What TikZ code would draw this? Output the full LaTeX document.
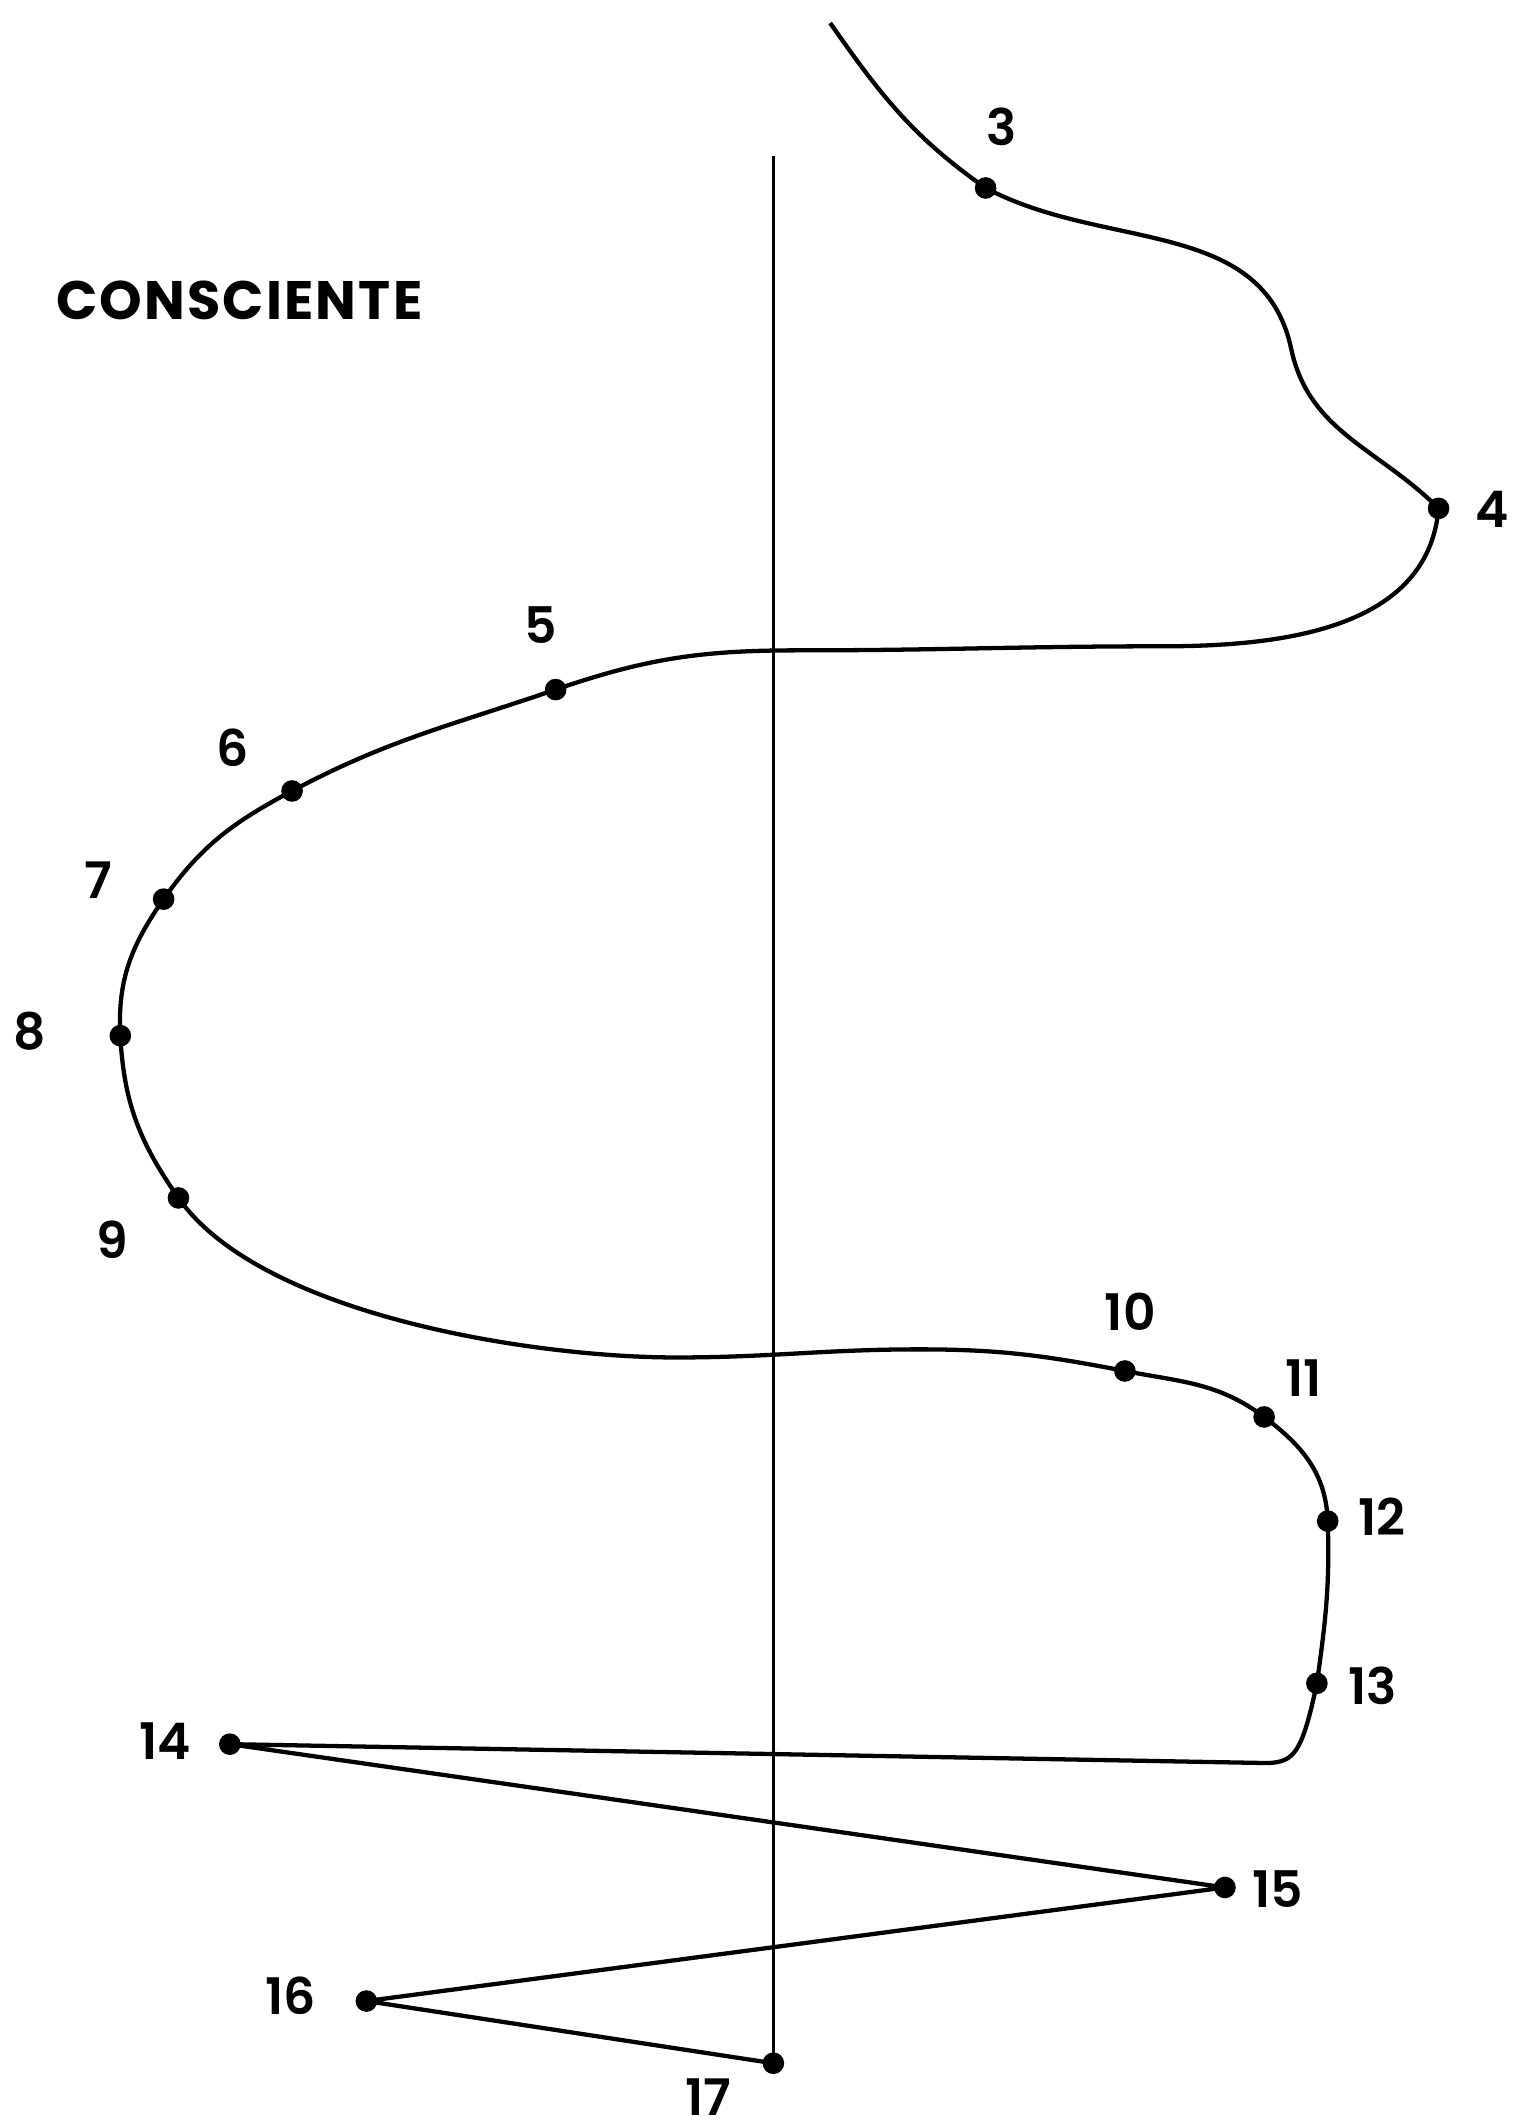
\documentclass[tikz,border=0pt]{standalone}
\usepackage{fontspec}
\newfontfamily\numfont{Poppins SemiBold}
\newfontfamily\titlefont{Poppins Bold}[LetterSpace=4]
\usetikzlibrary{calc}
\tikzset{
  dot/.style={circle,fill=black,inner sep=0pt,minimum size=0.16cm},
  num/.style={font=\numfont\fontsize{10.6}{12}\selectfont,inner sep=0pt},
  trace/.style={line width=0.9pt,line join=round},
}

\begin{document}
\begin{tikzpicture}[x=0.01cm,y=-0.01cm]
  \useasboundingbox (0,0) rectangle (1120,1568);

  % Title
  \node[font=\titlefont\fontsize{11.4}{13}\selectfont,inner sep=0pt] (title) at (177,222) {CONSCIENTE};

  % Points on the trace
  \coordinate (top) at (614,17);
  \node[dot] (d3) at (729,139) {};
  \node[dot] (d4) at (1064,376) {};
  \node[dot] (d5) at (411,510) {};
  \node[dot] (d6) at (216,585) {};
  \node[dot] (d7) at (121,665) {};
  \node[dot] (d8) at (89,766) {};
  \node[dot] (d9) at (132,886) {};
  \node[dot] (d10) at (832,1014) {};
  \node[dot] (d11) at (935,1048) {};
  \node[dot] (d12) at (982,1125) {};
  \node[dot] (d13) at (974,1245) {};
  \node[dot] (d14) at (170,1290) {};
  \node[dot] (d15) at (906,1396) {};
  \node[dot] (d16) at (271,1480) {};
  \node[dot] (d17) at (572,1526) {};

  % Labels
  \node[num] (n3) at (741,94) {3};
  \node[num] (n4) at (1104,377) {4};
  \node[num] (n5) at (400,462) {5};
  \node[num] (n6) at (172,553) {6};
  \node[num] (n7) at (73,651) {7};
  \node[num] (n8) at (22,763) {8};
  \node[num] (n9) at (83,917) {9};
  \node[num] (n10) at (836,970) {10};
  \node[num] (n11) at (964,1019) {11};
  \node[num] (n12) at (1022,1122) {12};
  \node[num] (n13) at (1015,1247) {13};
  \node[num] (n14) at (122,1288) {14};
  \node[num] (n15) at (945,1397) {15};
  \node[num] (n16) at (215,1476) {16};
  \node[num] (n17) at (524,1551) {17};

  % Axis
  \coordinate (axtop) at (572,115);
  \draw[line width=0.7pt] (axtop) -- (d17.center);

  % Helper points
  \coordinate (w1) at (955,258);
  \coordinate (w2) at (860,478);
  \coordinate (w3) at (590,481);
  \coordinate (w4) at (500,1004);
  \coordinate (w5) at (680,998);
  \coordinate (w6) at (938,1304);

  % Trace
  \draw[trace] (top) to[out=-55,in=145] (d3.center)
    to[out=-28,in=102] (w1)
    to[out=-78,in=135] (d4.center)
    to[out=-95,in=0] (w2)
    to[out=180,in=0] (w3)
    to[out=180,in=19] (d5.center)
    to[out=-161,in=28] (d6.center)
    to[out=-152,in=55] (d7.center)
    to[out=-125,in=93] (d8.center)
    to[out=-87,in=125] (d9.center)
    to[out=-55,in=180,looseness=0.7] (w4)
    to[out=0,in=180] (w5)
    to[out=0,in=169] (d10.center)
    to[out=-11,in=143] (d11.center)
    to[out=-37,in=92] (d12.center)
    to[out=-88,in=82] (d13.center)
    .. controls (963,1297) and (957,1303) .. (w6)
    -- (d14.center) -- (d15.center) -- (d16.center) -- (d17.center);
\end{tikzpicture}
\end{document}
